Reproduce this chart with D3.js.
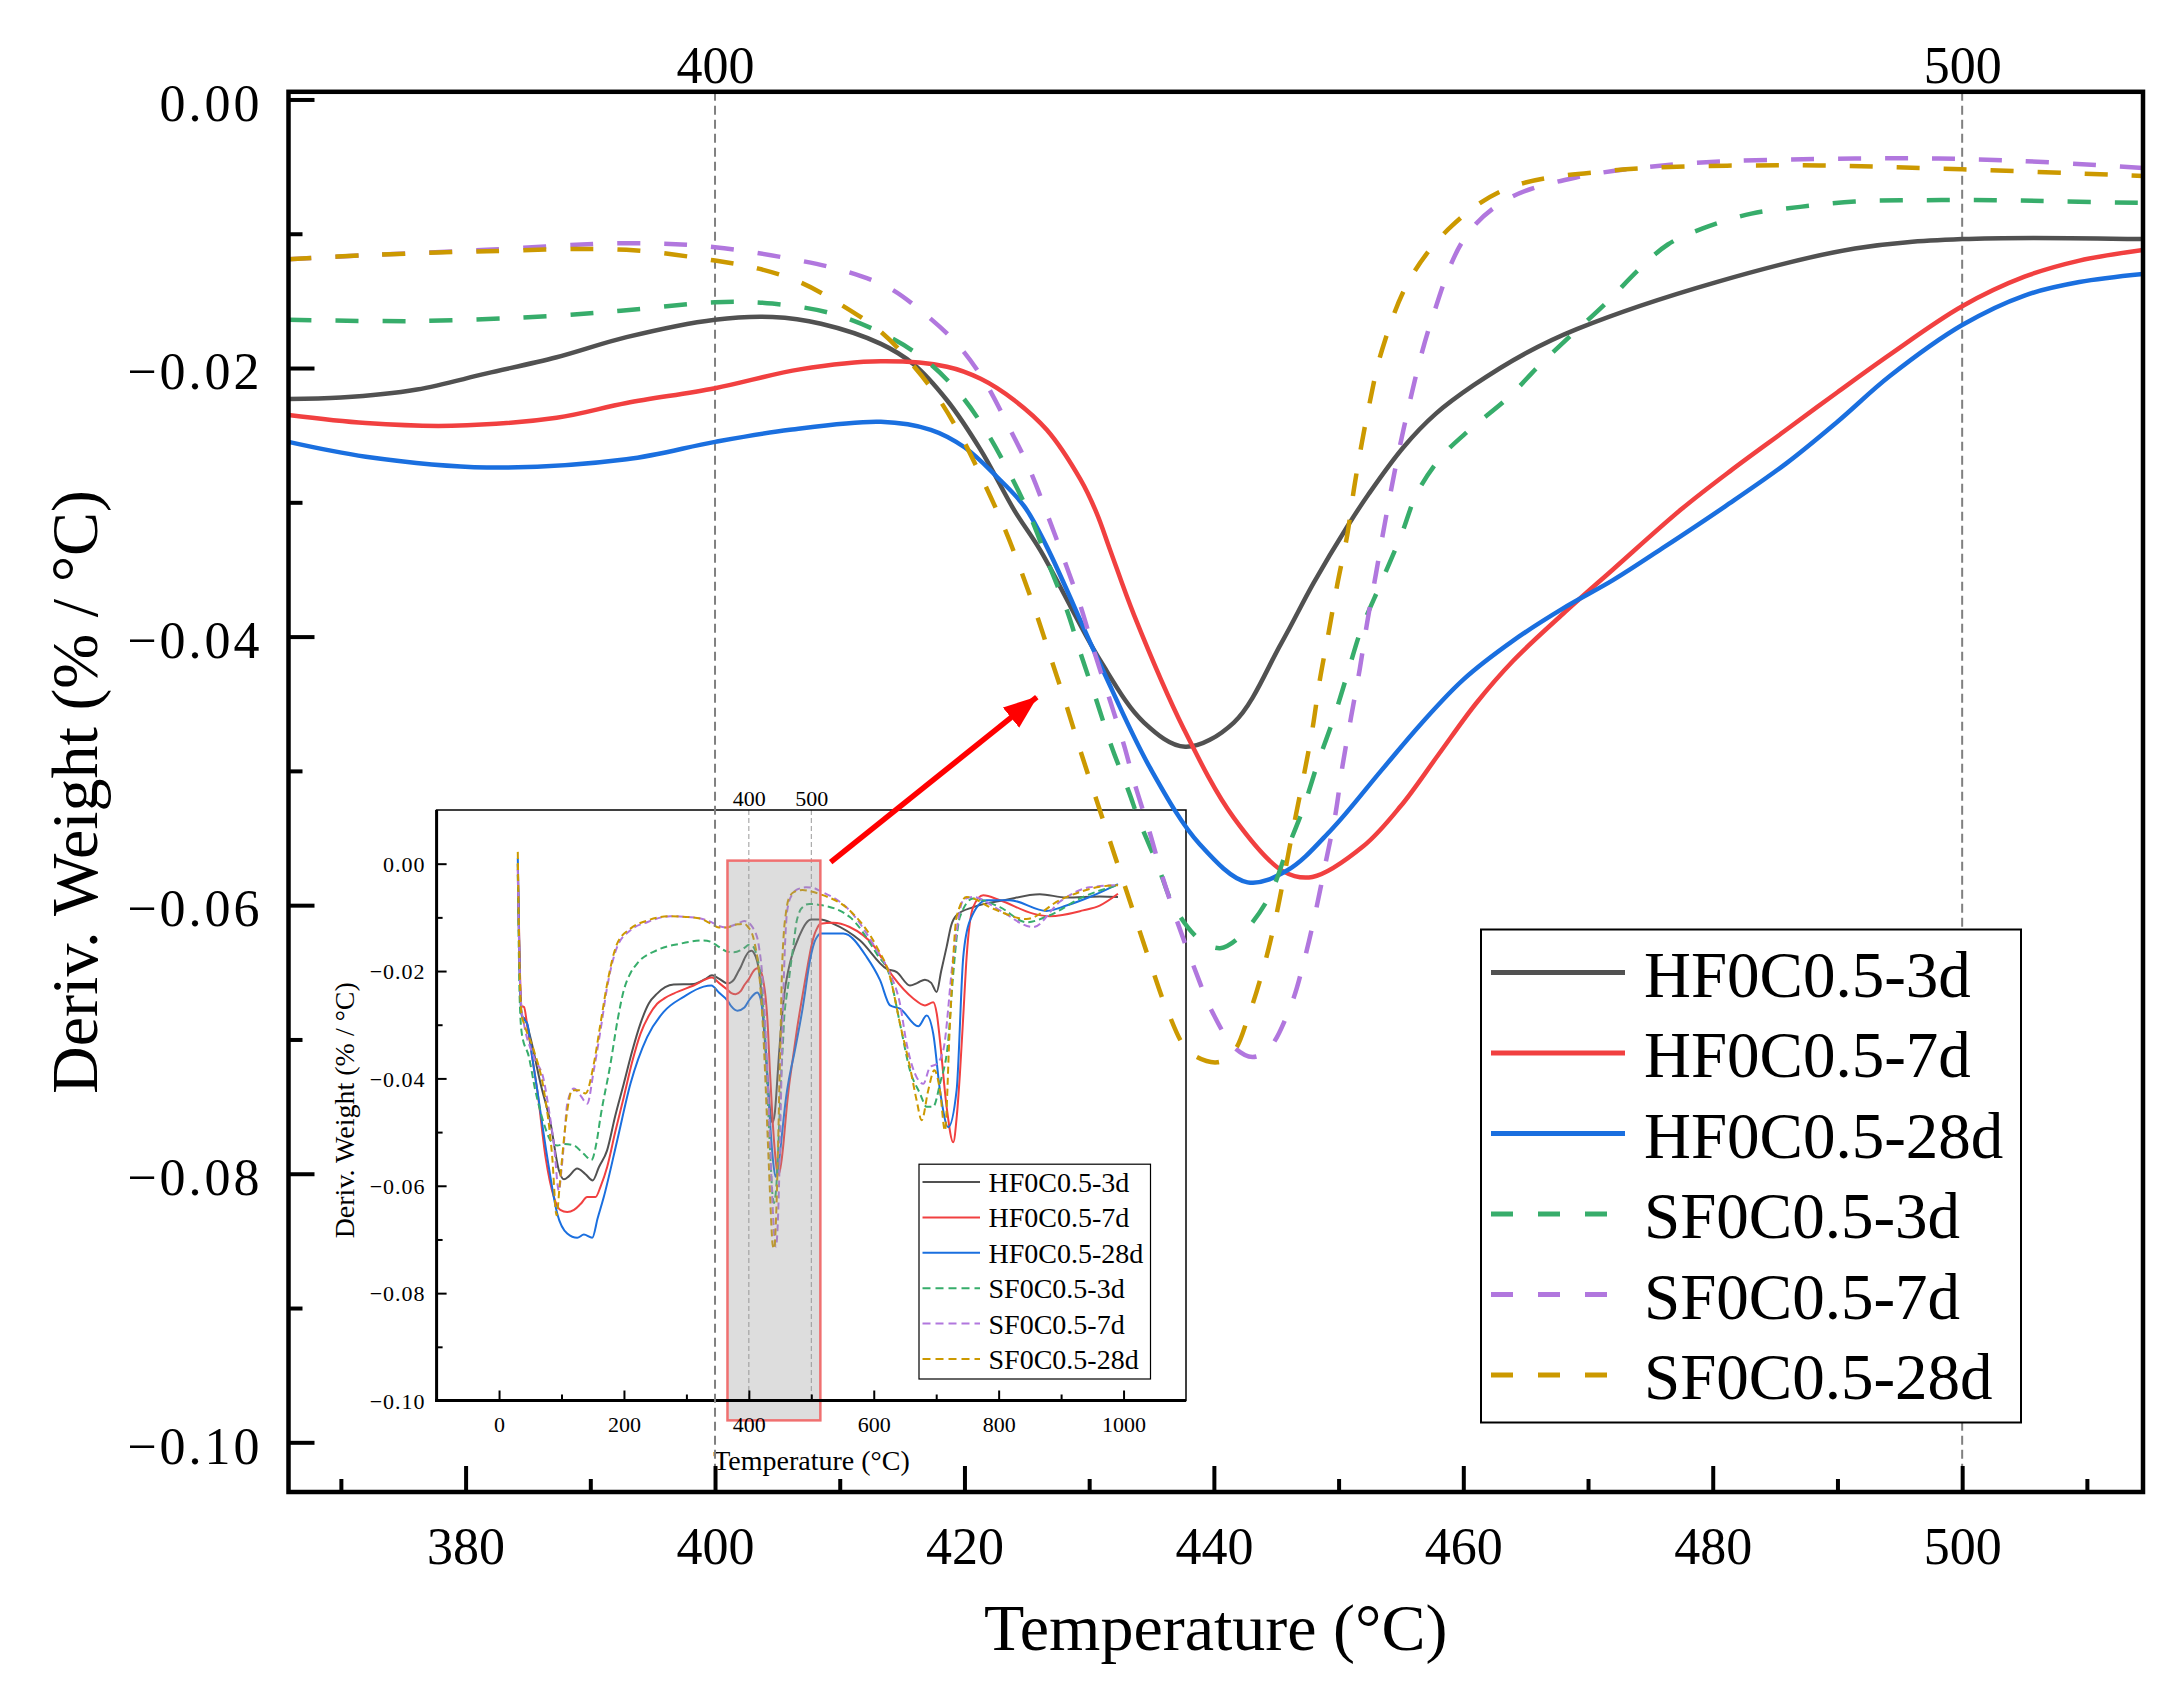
<!DOCTYPE html>
<html>
<head>
<meta charset="utf-8">
<script src="https://cdn.jsdelivr.net/npm/d3@7"></script>
<style>
body { margin: 0; background: #fff; }
text { font-family: "Liberation Serif", "Times New Roman", serif; }
</style>
</head>
<body>
<div id="chart"></div>
<script>
// series
var names = ["HF0C0.5-3d", "HF0C0.5-7d", "HF0C0.5-28d", "SF0C0.5-3d", "SF0C0.5-7d", "SF0C0.5-28d"];
var colors = ["#515151", "#F14040", "#1A6FDF", "#37AD6B", "#B177DE", "#CC9900"];
var dashed = [false, false, false, true, true, true];

// main window, [temperature, deriv weight]
var hf3d = [[365.8,-0.0223],[370,-0.0222],[376.1,-0.0216],[381.7,-0.0204],[387.3,-0.0192],[392.9,-0.0177],[400,-0.0164],[404.6,-0.0162],[408.5,-0.0167],[413.3,-0.0182],[415.9,-0.0197],[418.6,-0.0224],[421.3,-0.0261],[424,-0.0306],[426.1,-0.0336],[430.9,-0.0418],[434.4,-0.0464],[437.7,-0.0482],[441.6,-0.0464],[445.4,-0.0405],[448,-0.0360],[450.7,-0.0318],[452.4,-0.0294],[455.2,-0.0259],[457.8,-0.0234],[460.8,-0.0213],[465,-0.0189],[469.1,-0.0171],[480.3,-0.0136],[491.4,-0.0111],[500,-0.0104],[514.5,-0.0104]];
var hf7d = [[365.8,-0.0235],[372,-0.0241],[378.9,-0.0243],[387.3,-0.0237],[392.9,-0.0226],[400,-0.0215],[406.8,-0.0201],[413.3,-0.0195],[418.6,-0.0199],[421.3,-0.0208],[424,-0.0224],[426.6,-0.0246],[429.3,-0.0283],[430.6,-0.0308],[431.7,-0.0336],[433.6,-0.0384],[437.6,-0.0469],[441.6,-0.0535],[445.6,-0.0575],[447.9,-0.0579],[452,-0.0556],[455,-0.0526],[458,-0.0488],[461,-0.0450],[464,-0.0418],[468,-0.0383],[472,-0.0350],[477.5,-0.0305],[481.5,-0.0276],[485.9,-0.0246],[490,-0.0218],[494.2,-0.0190],[500,-0.0154],[505,-0.0132],[509.4,-0.0120],[514.5,-0.0112]];
var hf28d = [[365.8,-0.0255],[372,-0.0266],[381.7,-0.0274],[392.9,-0.0268],[400,-0.0255],[406,-0.0246],[413.3,-0.0240],[417.3,-0.0246],[420,-0.0259],[422.6,-0.0281],[424.8,-0.0303],[426.6,-0.0333],[430.9,-0.0421],[434.9,-0.0498],[438.9,-0.0555],[442.7,-0.0583],[445.9,-0.0574],[449.4,-0.0544],[453.4,-0.0500],[456.6,-0.0465],[460,-0.0432],[464,-0.0403],[468,-0.0379],[472,-0.0358],[476,-0.0334],[481,-0.0303],[485.9,-0.0271],[490,-0.0240],[494.2,-0.0206],[500,-0.0168],[505,-0.0146],[509.4,-0.0136],[514.5,-0.0130]];
var sf3d = [[365.8,-0.0164],[376.1,-0.0165],[387.3,-0.0161],[394,-0.0156],[400,-0.0151],[404.6,-0.0152],[409.6,-0.0160],[414,-0.0177],[417,-0.0195],[419.7,-0.0220],[421.8,-0.0248],[423.7,-0.0280],[425.4,-0.0313],[426.8,-0.0347],[428.2,-0.0380],[429.4,-0.0415],[430.6,-0.0448],[431.8,-0.0482],[433.2,-0.0516],[434,-0.0537],[435.45,-0.0569],[436.8,-0.0601],[438.9,-0.0626],[440.5,-0.0632],[441.9,-0.0625],[444.3,-0.0596],[445.9,-0.0558],[447.2,-0.0527],[448.3,-0.0495],[449.6,-0.0461],[450.7,-0.0428],[451.8,-0.0395],[453.4,-0.0360],[455,-0.0325],[456.3,-0.0293],[458.25,-0.0266],[460.5,-0.0246],[463.6,-0.0222],[466.1,-0.0198],[468.6,-0.0176],[471.4,-0.0152],[474.15,-0.0126],[476.4,-0.0108],[479.2,-0.0096],[483.1,-0.0085],[487,-0.0080],[491.4,-0.0076],[497,-0.0075],[502.6,-0.0075],[508.2,-0.0076],[514.5,-0.0077]];
var sf7d = [[365.8,-0.0119],[372,-0.0116],[381.7,-0.0112],[392.9,-0.0107],[400,-0.0110],[406.8,-0.0120],[410.5,-0.0128],[413.9,-0.0140],[416.6,-0.0158],[419.4,-0.0182],[421.55,-0.0209],[423.4,-0.0241],[425.2,-0.0275],[426.6,-0.0308],[428,-0.0343],[429.3,-0.0377],[430.4,-0.0411],[431.65,-0.0447],[432.8,-0.0481],[433.6,-0.0508],[434.8,-0.0544],[435.85,-0.0578],[437.05,-0.0612],[438.4,-0.0646],[439.9,-0.0680],[441.65,-0.0706],[443.1,-0.0713],[444.4,-0.0707],[446.2,-0.0674],[447.3,-0.0639],[448.2,-0.0603],[448.97,-0.0568],[449.75,-0.0532],[450.3,-0.0497],[451,-0.0460],[451.7,-0.0424],[452.3,-0.0389],[453,-0.0353],[453.7,-0.0316],[455.2,-0.0246],[457.4,-0.0166],[460.2,-0.0102],[463.6,-0.0074],[469.1,-0.0058],[477.5,-0.0048],[491.4,-0.0044],[502.6,-0.0045],[514.5,-0.0051]];
var sf28d = [[365.8,-0.0119],[372,-0.0116],[381.7,-0.0113],[392.9,-0.0112],[400,-0.0120],[403.5,-0.0126],[406.8,-0.0136],[409.6,-0.0150],[413.3,-0.0173],[415.5,-0.0194],[417.8,-0.0221],[419.8,-0.0252],[421.55,-0.0285],[423.15,-0.0318],[424.5,-0.0350],[425.8,-0.0384],[427,-0.0418],[428.2,-0.0452],[429.4,-0.0488],[430.6,-0.0522],[431.8,-0.0556],[433.3,-0.0598],[434.9,-0.0643],[436.25,-0.0678],[438,-0.0709],[440.3,-0.0717],[441.6,-0.0709],[442.8,-0.0682],[444,-0.0646],[444.9,-0.0612],[445.7,-0.0575],[446.4,-0.0541],[447.2,-0.0504],[447.9,-0.0469],[448.5,-0.0432],[449.2,-0.0397],[449.9,-0.0361],[450.7,-0.0324],[451.3,-0.0286],[452.4,-0.0230],[453.5,-0.0186],[455.7,-0.0134],[459.1,-0.0094],[463.6,-0.0066],[471.9,-0.0053],[485.9,-0.0049],[500,-0.0052],[514.5,-0.0057]];

// inset, below and above the main window
var hf3dLow = [[30,-0.002],[33,-0.020],[37,-0.0285],[42,-0.0290],[50,-0.0323],[66.5,-0.0410],[82.5,-0.0484],[95.8,-0.0571],[104,-0.0588],[112,-0.0582],[125,-0.0568],[138,-0.0578],[150,-0.0590],[160,-0.0565],[173,-0.0534],[186,-0.0470],[199.7,-0.0410],[213,-0.0350],[226.4,-0.0298],[240,-0.0260],[253.1,-0.0242],[266,-0.0230],[279.6,-0.0225],[311.6,-0.0224],[330,-0.0215],[341,-0.0208],[352,-0.0214]];
var hf7dLow = [[30,0.000],[33,-0.018],[36,-0.0265],[40,-0.0267],[45,-0.0300],[53,-0.0360],[61.2,-0.0422],[74.5,-0.0547],[87.8,-0.0621],[98,-0.0645],[109.2,-0.0649],[120,-0.0645],[130.5,-0.0634],[141.2,-0.0621],[154.4,-0.0621],[163,-0.0600],[173.1,-0.0565],[186,-0.0500],[199.7,-0.0435],[213,-0.0370],[226.4,-0.0317],[240,-0.0283],[253.1,-0.0261],[266,-0.0250],[279.6,-0.0242],[311.6,-0.0227],[341,-0.0212],[352,-0.0222]];
var hf28dLow = [[30,0.001],[33,-0.020],[36,-0.0280],[40,-0.0290],[45.2,-0.0298],[53,-0.0360],[61.2,-0.0422],[77.2,-0.0547],[93.2,-0.0652],[109.2,-0.0689],[125.2,-0.0697],[135.8,-0.0691],[149.2,-0.0697],[158,-0.0660],[167.7,-0.0621],[189.1,-0.0516],[210.4,-0.0410],[237.1,-0.0323],[263.6,-0.0276],[295.6,-0.0248],[327.6,-0.0229],[340,-0.0227],[352,-0.0240]];
var sf3dLow = [[30,0.000],[33,-0.025],[36.5,-0.0317],[47.8,-0.0360],[58,-0.0422],[71.8,-0.0484],[82,-0.0515],[93,-0.0525],[105,-0.0522],[120,-0.0525],[135,-0.0540],[148,-0.0552],[156,-0.0520],[162.4,-0.0472],[178.4,-0.0373],[190,-0.0290],[199.7,-0.0236],[210,-0.0205],[221.1,-0.0186],[253.1,-0.0161],[290.3,-0.0149],[327.6,-0.0143],[340,-0.0146],[352,-0.0155]];
var sf7dLow = [[30,-0.001],[33,-0.020],[36,-0.0270],[39.8,-0.0298],[55.8,-0.0360],[71.8,-0.0404],[80,-0.0460],[87.8,-0.0522],[95.8,-0.0609],[100,-0.0570],[103.8,-0.0522],[109.2,-0.0447],[119.8,-0.0419],[130.5,-0.0432],[141.2,-0.0447],[151.7,-0.0385],[162.4,-0.0311],[173.1,-0.0230],[189.1,-0.0155],[210.4,-0.0124],[237.1,-0.0109],[274.3,-0.0098],[317,-0.0101],[340,-0.0109],[352,-0.0116]];
var sf28dLow = [[30,0.0022],[33,-0.020],[36,-0.0280],[40,-0.0298],[55.8,-0.0348],[71.8,-0.0422],[85.2,-0.0547],[92.1,-0.0655],[97,-0.0600],[101.1,-0.0547],[109.2,-0.0460],[117.1,-0.0422],[127.8,-0.0422],[138.5,-0.0428],[151.7,-0.0373],[162.4,-0.0298],[173.1,-0.0224],[189.1,-0.0149],[210.4,-0.0121],[237.1,-0.0106],[274.3,-0.0098],[317,-0.0101],[340,-0.0112],[352,-0.0119]];

var hf3dHigh = [[535.4,-0.0112],[578.1,-0.0143],[620.8,-0.0196],[636.8,-0.0202],[658,-0.0227],[670,-0.0222],[682,-0.0216],[692,-0.0222],[700.7,-0.0239],[708,-0.0200],[716.7,-0.0155],[724,-0.0115],[732.7,-0.0096],[759.2,-0.0081],[812.6,-0.0067],[865.9,-0.0057],[908.5,-0.0063],[961.8,-0.0061],[991.1,-0.0062]];
var hf7dHigh = [[535,-0.0110],[561.3,-0.0118],[599.4,-0.0152],[631.3,-0.0211],[663.3,-0.0251],[682,-0.0264],[695.3,-0.0258],[701,-0.0280],[706,-0.0329],[716.7,-0.0453],[727.3,-0.0519],[733,-0.0470],[738,-0.0391],[744,-0.0270],[748.7,-0.0174],[759.2,-0.0081],[775.2,-0.0059],[802,-0.0068],[855.2,-0.0093],[881.9,-0.0098],[935.1,-0.0087],[961.8,-0.0078],[991.1,-0.0056]];
var hf28dHigh = [[551.4,-0.0130],[588.8,-0.0174],[610.1,-0.0217],[626.1,-0.0264],[642,-0.0270],[671.3,-0.0303],[684.7,-0.0283],[695.3,-0.0317],[706,-0.0422],[719.3,-0.0491],[732.7,-0.0422],[743.3,-0.0174],[754,-0.0106],[780.6,-0.0068],[817.9,-0.0068],[876.6,-0.0088],[908.5,-0.0078],[945.8,-0.0062],[991.1,-0.0038]];
var sf3dHigh = [[561.3,-0.0099],[604.8,-0.0168],[626.1,-0.0211],[642,-0.0298],[658,-0.0385],[674,-0.0428],[684.7,-0.0453],[695,-0.0453],[706,-0.0410],[719.3,-0.0329],[727.3,-0.0205],[738,-0.0099],[759.2,-0.0065],[802,-0.0081],[844.6,-0.0109],[881.9,-0.0096],[935.1,-0.0062],[991.1,-0.0040]];
var sf7dHigh = [[561.3,-0.0087],[604.8,-0.0161],[626.1,-0.0205],[642,-0.0261],[652.6,-0.0335],[666,-0.0391],[679.4,-0.0410],[690,-0.0379],[700.7,-0.0373],[711.3,-0.0348],[727.3,-0.0174],[743.3,-0.0068],[759.2,-0.0062],[802,-0.0087],[855.2,-0.0118],[897.8,-0.0071],[945.8,-0.0044],[991.1,-0.0040]];
var sf28dHigh = [[561.3,-0.0087],[604.8,-0.0155],[626.1,-0.0211],[642,-0.0298],[658,-0.0379],[668.7,-0.0441],[676.7,-0.0478],[687.3,-0.0422],[697,-0.0385],[706,-0.0422],[714,-0.0497],[722,-0.0298],[732.7,-0.0099],[748.7,-0.0062],[791.3,-0.0084],[844.6,-0.0103],[897.8,-0.0068],[961.8,-0.0043],[991.1,-0.0040]];

// ticks
var xMajor = [380, 400, 420, 440, 460, 480, 500];
var xMinor = [370, 390, 410, 430, 450, 470, 490, 510];
var xTop = [400, 500];
var yMajor = [0, -0.02, -0.04, -0.06, -0.08, -0.1];
var yMinor = [-0.01, -0.03, -0.05, -0.07, -0.09];
var ixMajor = [0, 200, 400, 600, 800, 1000];
var ixMinor = [100, 300, 500, 700, 900];
var ixTop = [400, 500];
var iyMajor = [0, -0.02, -0.04, -0.06, -0.08, -0.1];
var iyMinor = [-0.01, -0.03, -0.05, -0.07, -0.09];
var xDomain = [365.8, 514.5];
var yDomain = [0.00057, -0.1037];
var ixDomain = [-100, 1100];
var iyDomain = [0.01, -0.1];
var arrowFrom = [531, 0.0003];    // inset coords
var arrowTo = [425.8, -0.0445];   // main coords

var mainSeries = [hf3d, hf7d, hf28d, sf3d, sf7d, sf28d];
var lowSeries = [hf3dLow, hf7dLow, hf28dLow, sf3dLow, sf7dLow, sf28dLow];
var highSeries = [hf3dHigh, hf7dHigh, hf28dHigh, sf3dHigh, sf7dHigh, sf28dHigh];

var FONT = "'Liberation Serif', 'Times New Roman', serif";

function styleAxis(g, size, width) {
    g.attr("font-family", FONT).attr("font-size", size).attr("fill", "#000");
    g.select(".domain").remove();
    g.selectAll(".tick line").attr("stroke", "#000").attr("stroke-width", width);
    g.selectAll(".tick text").attr("fill", "#000");
}

function drawInset(svg) {
    var L = 436.6, R = 1186, T = 810, B = 1400.5;
    var ix = d3.scaleLinear().domain(ixDomain).range([L, R]);
    var iy = d3.scaleLinear().domain(iyDomain).range([T, B]);
    var g = svg.append("g").attr("class", "inset");

    g.append("rect").attr("x", L).attr("y", T).attr("width", R - L).attr("height", B - T)
        .attr("fill", "#fff");

    // reference lines at 400 / 500
    g.selectAll(".iref").data(ixTop).enter().append("line")
        .attr("x1", function(d) { return ix(d); })
        .attr("x2", function(d) { return ix(d); })
        .attr("y1", T).attr("y2", B)
        .attr("stroke", "#999").attr("stroke-width", 1).attr("stroke-dasharray", "5,3");

    var line = d3.line()
        .x(function(d) { return ix(d[0]); })
        .y(function(d) { return iy(d[1]); })
        .curve(d3.curveMonotoneX);
    for (var i = 0; i < names.length; i++) {
        var pts = lowSeries[i].concat(mainSeries[i]).concat(highSeries[i]);
        g.append("path").datum(pts)
            .attr("d", line)
            .attr("fill", "none")
            .attr("stroke", colors[i])
            .attr("stroke-width", 2)
            .attr("stroke-dasharray", dashed[i] ? "7,4" : null);
    }

    // zoomed window
    g.append("rect")
        .attr("x", ix(xDomain[0])).attr("y", iy(yDomain[0]))
        .attr("width", ix(xDomain[1]) - ix(xDomain[0]))
        .attr("height", iy(yDomain[1]) - iy(yDomain[0]))
        .attr("fill", "#999").attr("fill-opacity", 0.33)
        .attr("stroke", "#f07070").attr("stroke-width", 2.5);

    // frame + axes
    g.append("rect").attr("x", L).attr("y", T).attr("width", R - L).attr("height", B - T)
        .attr("fill", "none").attr("stroke", "#000").attr("stroke-width", 1.5);
    g.append("line").attr("x1", L).attr("x2", L).attr("y1", T).attr("y2", B + 1.5)
        .attr("stroke", "#000").attr("stroke-width", 3);
    g.append("line").attr("x1", L - 1.5).attr("x2", R).attr("y1", B).attr("y2", B)
        .attr("stroke", "#000").attr("stroke-width", 3);

    var bx = g.append("g").attr("transform", "translate(0," + B + ")")
        .call(d3.axisBottom(ix).tickValues(ixMajor).tickSize(-10).tickPadding(16).tickFormat(d3.format("d")));
    styleAxis(bx, 22, 2);
    var bxm = g.append("g").attr("transform", "translate(0," + B + ")")
        .call(d3.axisBottom(ix).tickValues(ixMinor).tickSize(-6).tickFormat(""));
    styleAxis(bxm, 22, 2);
    var tx = g.append("g").attr("transform", "translate(0," + T + ")")
        .call(d3.axisTop(ix).tickValues(ixTop).tickSize(0).tickPadding(4).tickFormat(d3.format("d")));
    styleAxis(tx, 22, 0);
    var ly = g.append("g").attr("transform", "translate(" + L + ",0)")
        .call(d3.axisLeft(iy).tickValues(iyMajor).tickSize(-10).tickPadding(11).tickFormat(d3.format(".2f")));
    styleAxis(ly, 22, 2);
    ly.selectAll(".tick text").attr("dy", "0.35em").attr("letter-spacing", 1);
    var lym = g.append("g").attr("transform", "translate(" + L + ",0)")
        .call(d3.axisLeft(iy).tickValues(iyMinor).tickSize(-6).tickFormat(""));
    styleAxis(lym, 22, 2);

    g.append("text").attr("x", (710 + 913) / 2).attr("y", 1470)
        .attr("text-anchor", "middle").attr("font-size", 28)
        .text("Temperature (°C)");
    g.append("text")
        .attr("transform", "translate(354," + ((T + B) / 2 + 5) + ") rotate(-90)")
        .attr("text-anchor", "middle").attr("font-size", 28)
        .text("Deriv. Weight (% / °C)");

    // inset legend
    var lg = g.append("g");
    lg.append("rect").attr("x", 919).attr("y", 1164.2).attr("width", 231.5).attr("height", 214.8)
        .attr("fill", "#fff").attr("stroke", "#000").attr("stroke-width", 1.2);
    var rows = lg.selectAll(".irow").data(names).enter().append("g")
        .attr("transform", function(d, i) { return "translate(0," + (1182 + i * 35.4) + ")"; });
    rows.append("line").attr("x1", 922.5).attr("x2", 980).attr("y1", 0).attr("y2", 0)
        .attr("stroke", function(d, i) { return colors[i]; })
        .attr("stroke-width", 2)
        .attr("stroke-dasharray", function(d, i) { return dashed[i] ? "8,5" : null; });
    rows.append("text").attr("x", 988.5).attr("y", 10).attr("font-size", 28)
        .text(function(d) { return d; });

    return { ix: ix, iy: iy };
}

function drawChart() {
    var w = 2180, h = 1684;
    var pl = 288.5, pr = 2143, pt = 91.8, pb = 1492;
    var svg = d3.select("#chart").append("svg")
        .attr("width", w).attr("height", h)
        .style("display", "block");
    svg.append("rect").attr("width", w).attr("height", h).attr("fill", "#fff");

    var x = d3.scaleLinear().domain(xDomain).range([pl, pr]);
    var y = d3.scaleLinear().domain(yDomain).range([pt, pb]);

    svg.append("defs").append("clipPath").attr("id", "plotclip")
        .append("rect").attr("x", pl).attr("y", pt).attr("width", pr - pl).attr("height", pb - pt);
    svg.select("defs").append("marker")
        .attr("id", "arrowhead")
        .attr("markerUnits", "userSpaceOnUse")
        .attr("viewBox", "0 -14 34 28")
        .attr("refX", 33).attr("refY", 0)
        .attr("markerWidth", 34).attr("markerHeight", 28)
        .attr("orient", "auto")
        .append("path").attr("d", "M0,-13L34,0L0,13Z").attr("fill", "#ff0000");

    var inset = drawInset(svg);

    // dashed reference lines at 400 / 500
    svg.selectAll(".ref").data(xTop).enter().append("line")
        .attr("x1", function(d) { return x(d); })
        .attr("x2", function(d) { return x(d); })
        .attr("y1", pt).attr("y2", pb)
        .attr("stroke", "#808080").attr("stroke-width", 2).attr("stroke-dasharray", "9,5");

    var line = d3.line()
        .x(function(d) { return x(d[0]); })
        .y(function(d) { return y(d[1]); })
        .curve(d3.curveCatmullRom.alpha(0.5));
    var curves = svg.append("g").attr("clip-path", "url(#plotclip)");
    for (var i = 0; i < names.length; i++) {
        curves.append("path").datum(mainSeries[i])
            .attr("d", line)
            .attr("fill", "none")
            .attr("stroke", colors[i])
            .attr("stroke-width", 4.5)
            .attr("stroke-dasharray", dashed[i] ? "23,24" : null);
    }

    // arrow from the zoom window to the main curves
    svg.append("line")
        .attr("x1", inset.ix(arrowFrom[0])).attr("y1", inset.iy(arrowFrom[1]))
        .attr("x2", x(arrowTo[0])).attr("y2", y(arrowTo[1]))
        .attr("stroke", "#ff0000").attr("stroke-width", 5.5)
        .attr("marker-end", "url(#arrowhead)");

    // axes
    var bx = svg.append("g").attr("transform", "translate(0," + pb + ")")
        .call(d3.axisBottom(x).tickValues(xMajor).tickSize(-26).tickPadding(35).tickFormat(d3.format("d")));
    styleAxis(bx, 52, 4);
    var bxm = svg.append("g").attr("transform", "translate(0," + pb + ")")
        .call(d3.axisBottom(x).tickValues(xMinor).tickSize(-13).tickFormat(""));
    styleAxis(bxm, 52, 4);
    var tx = svg.append("g").attr("transform", "translate(0," + pt + ")")
        .call(d3.axisTop(x).tickValues(xTop).tickSize(0).tickPadding(9).tickFormat(d3.format("d")));
    styleAxis(tx, 52, 0);
    var ly = svg.append("g").attr("transform", "translate(" + pl + ",0)")
        .call(d3.axisLeft(y).tickValues(yMajor).tickSize(-26).tickPadding(26).tickFormat(d3.format(".2f")));
    styleAxis(ly, 52, 4);
    ly.selectAll(".tick text").attr("dy", "0.4em").attr("letter-spacing", 3);
    var lym = svg.append("g").attr("transform", "translate(" + pl + ",0)")
        .call(d3.axisLeft(y).tickValues(yMinor).tickSize(-14).tickFormat(""));
    styleAxis(lym, 52, 4);

    svg.append("rect").attr("x", pl).attr("y", pt).attr("width", pr - pl).attr("height", pb - pt)
        .attr("fill", "none").attr("stroke", "#000").attr("stroke-width", 4.5);

    svg.append("text").attr("x", (pl + pr) / 2).attr("y", 1650)
        .attr("text-anchor", "middle").attr("font-size", 66)
        .text("Temperature (°C)");
    svg.append("text")
        .attr("transform", "translate(97," + ((pt + pb) / 2) + ") rotate(-90)")
        .attr("text-anchor", "middle").attr("font-size", 66)
        .text("Deriv. Weight (% / °C)");

    // legend
    var lg = svg.append("g");
    lg.append("rect").attr("x", 1481).attr("y", 929.5).attr("width", 540).attr("height", 493)
        .attr("fill", "#fff").attr("stroke", "#000").attr("stroke-width", 2);
    var rows = lg.selectAll(".row").data(names).enter().append("g")
        .attr("transform", function(d, i) { return "translate(0," + (972.5 + i * 80.5) + ")"; });
    rows.append("line").attr("x1", 1491).attr("x2", 1625).attr("y1", 0).attr("y2", 0)
        .attr("stroke", function(d, i) { return colors[i]; })
        .attr("stroke-width", 5)
        .attr("stroke-dasharray", function(d, i) { return dashed[i] ? "22,25" : null; });
    rows.append("text").attr("x", 1644).attr("y", 24).attr("font-size", 65)
        .text(function(d) { return d; });
}

drawChart();
</script>
</body>
</html>
